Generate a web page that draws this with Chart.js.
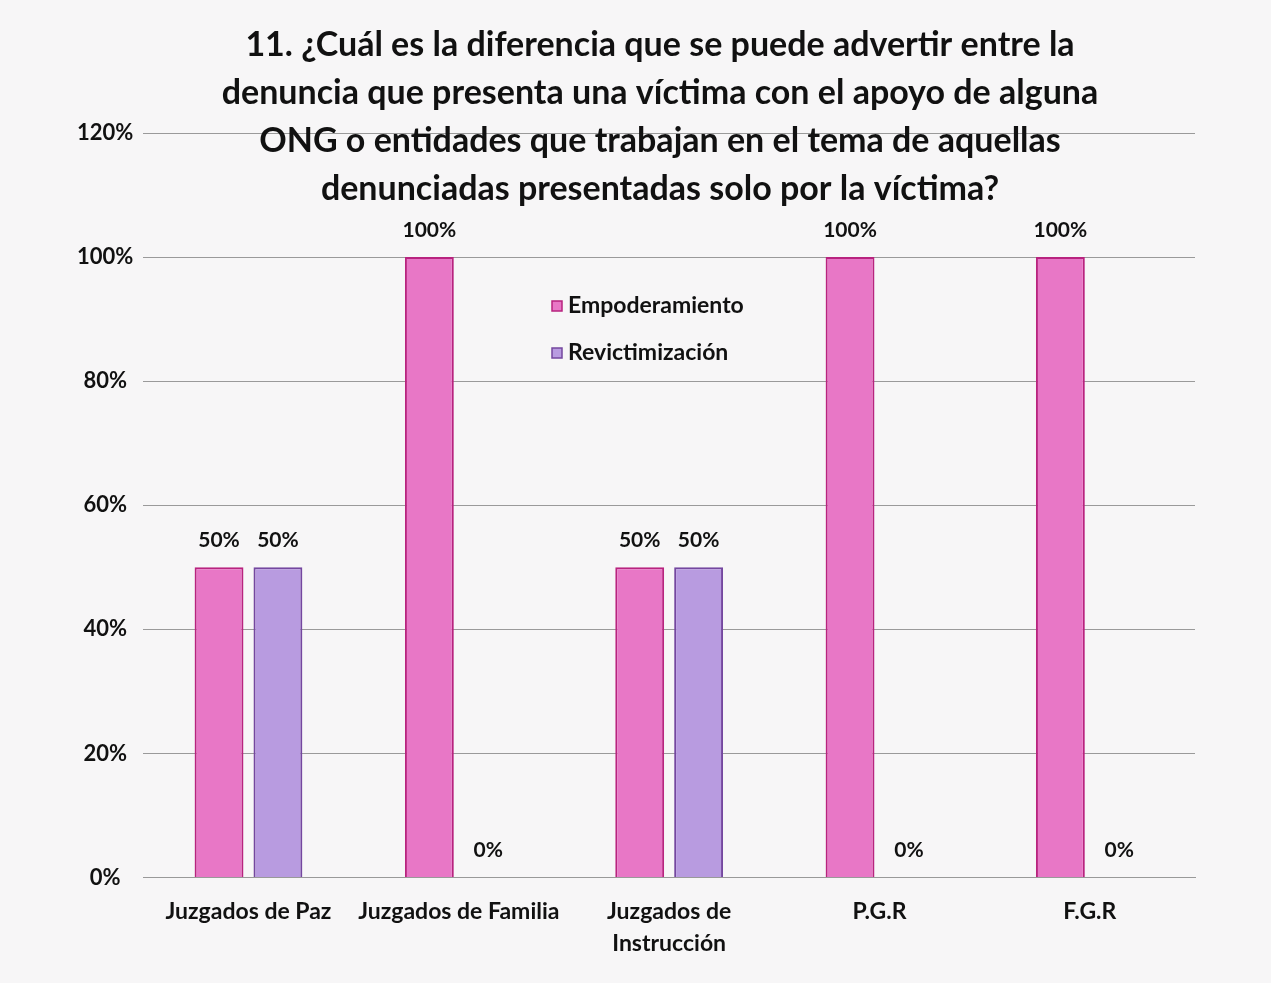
<!DOCTYPE html>
<html><head><meta charset="utf-8">
<script src="https://cdn.jsdelivr.net/npm/chart.js@4.4.0/dist/chart.umd.min.js"></script>
<style>html,body{margin:0;padding:0;background:#f7f6f7;}#wrap{width:1271px;height:983px;}</style>
</head><body><div id="wrap"><canvas id="c" width="1271" height="983"></canvas></div>
<script>
const categories = ["Juzgados de Paz", "Juzgados de Familia", ["Juzgados de", "Instrucción"], "P.G.R", "F.G.R"];
const empoderamiento = [50, 100, 50, 100, 100];
const revictimizacion = [50, 0, 50, 0, 0];
const seriesNames = ["Empoderamiento", "Revictimización"];
const titleLines = [
  "11. ¿Cuál es la diferencia que se puede advertir entre la",
  "denuncia que presenta una víctima con el apoyo de alguna",
  "ONG o entidades que trabajan en el tema de aquellas",
  "denunciadas presentadas solo por la víctima?"
];
const FONT = "Lato, 'Open Sans', sans-serif";

const labelPlugin = {
  id: 'vals',
  afterDatasetsDraw(chart) {
    const ctx = chart.ctx;
    ctx.save();
    ctx.font = "bold 21px " + FONT;
    ctx.fillStyle = "#111";
    ctx.textAlign = "center";
    ctx.textBaseline = "middle";
    chart.data.datasets.forEach((ds, i) => {
      chart.getDatasetMeta(i).data.forEach((bar, j) => {
        ctx.fillText(ds.data[j] + "%", bar.x, bar.y - 27);
      });
    });
    ctx.restore();
  }
};
const titlePlugin = {
  id: 'ttl',
  afterDraw(chart) {
    const ctx = chart.ctx;
    ctx.save();
    ctx.font = "bold 34px " + FONT;
    ctx.fillStyle = "#111";
    ctx.textAlign = "center";
    ctx.textBaseline = "middle";
    titleLines.forEach((l, i) => ctx.fillText(l, 660, 45 + i * 48));
    ctx.restore();
  }
};
const legendPlugin = {
  id: 'lgd',
  afterDraw(chart) {
    const ctx = chart.ctx;
    ctx.save();
    ctx.font = "bold 23px " + FONT;
    ctx.textBaseline = "middle";
    ctx.textAlign = "left";
    chart.data.datasets.forEach((ds, i) => {
      const y = 306 + i * 47;
      ctx.fillStyle = ds.backgroundColor;
      ctx.strokeStyle = ds.borderColor;
      ctx.lineWidth = 1.5;
      ctx.fillRect(552, y - 5, 10, 10);
      ctx.strokeRect(552, y - 5, 10, 10);
      ctx.fillStyle = "#111";
      ctx.fillText(ds.label, 568, y);
    });
    ctx.restore();
  }
};

new Chart(document.getElementById('c'), {
  type: 'bar',
  data: {
    labels: categories,
    datasets: [
      { label: seriesNames[0], data: empoderamiento, backgroundColor: "#e877c6", borderColor: "#b8237f", borderWidth: 2 },
      { label: seriesNames[1], data: revictimizacion, backgroundColor: "#b89be0", borderColor: "#74479f", borderWidth: 2 }
    ]
  },
  options: {
    responsive: false,
    animation: false,
    devicePixelRatio: 1,
    layout: { padding: { top: 133, right: 76, bottom: 13, left: 67 } },
    plugins: { legend: { display: false }, title: { display: false }, tooltip: { enabled: false } },
    datasets: { bar: { categoryPercentage: 0.56, barPercentage: 0.83 } },
    scales: {
      x: {
        grid: { display: false },
        border: { color: "#999" },
        ticks: { color: "#111", font: { family: FONT, size: 23, weight: 'bold', lineHeight: 1.4 }, padding: 10, maxRotation: 0 }
      },
      y: {
        min: 0, max: 120,
        grid: { color: "#9a9a9a", drawTicks: false },
        border: { display: false },
        ticks: { stepSize: 20, color: "#111", padding: 10, crossAlign: 'center', font: { family: FONT, size: 22, weight: 'bold' }, callback: v => v + "%" }
      }
    }
  },
  plugins: [labelPlugin, titlePlugin, legendPlugin]
});
</script></body></html>
